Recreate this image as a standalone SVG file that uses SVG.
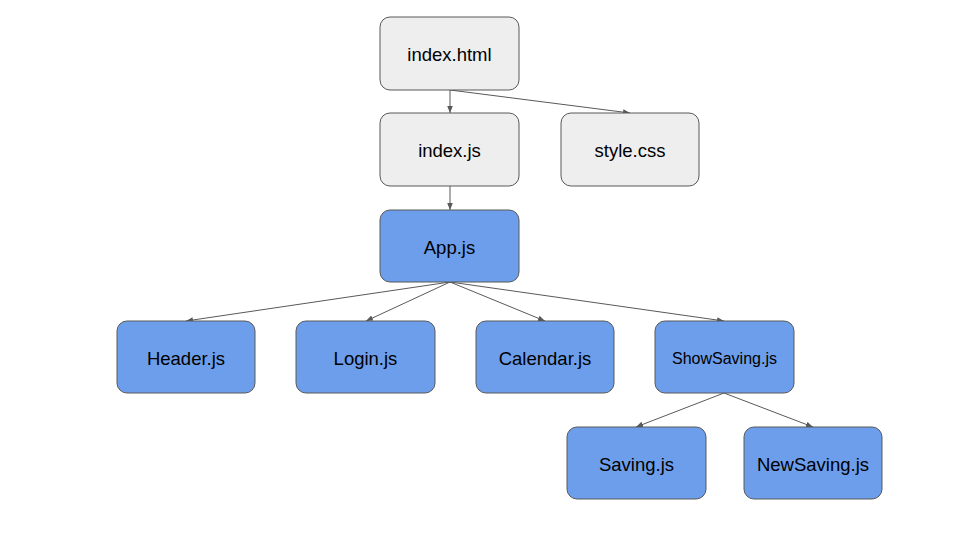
<svg xmlns="http://www.w3.org/2000/svg" width="960" height="540" viewBox="0 0 960 540">
<defs>
<marker id="ah" viewBox="0 0 10 10" refX="10" refY="5" markerWidth="7" markerHeight="7" markerUnits="userSpaceOnUse" orient="auto">
<path d="M0,1 L10,5 L0,9 z" fill="#595959"/>
</marker>
</defs>
<style>
.n rect{stroke:#595959;stroke-width:1}
.g rect{fill:#eeeeee}
.b rect{fill:#6d9eeb}
.n text{font-family:"Liberation Sans",Arial,sans-serif;font-size:18.5px;fill:#000;text-anchor:middle;dominant-baseline:central}
#connectors line{stroke:#595959;stroke-width:1;marker-end:url(#ah)}
</style>
<rect width="960" height="540" fill="#ffffff"/>
<g id="connectors">
<line x1="450" y1="90" x2="450" y2="113"/>
<line x1="450" y1="90" x2="630" y2="113"/>
<line x1="450" y1="186" x2="450" y2="210"/>
<line x1="450" y1="282" x2="186" y2="321"/>
<line x1="450" y1="282" x2="366" y2="321"/>
<line x1="450" y1="282" x2="545" y2="321"/>
<line x1="450" y1="282" x2="724" y2="321"/>
<line x1="724" y1="393" x2="636" y2="427"/>
<line x1="724" y1="393" x2="813" y2="427"/>
</g>
<g id="index_html" class="n g"><rect x="380" y="17" width="139" height="73" rx="10"/><text x="449.5" y="54.5">index.html</text></g>
<g id="index_js" class="n g"><rect x="380" y="113" width="139" height="73" rx="10"/><text x="449.5" y="150.5">index.js</text></g>
<g id="style_css" class="n g"><rect x="561" y="113" width="138" height="73" rx="10"/><text x="630" y="150.5">style.css</text></g>
<g id="app_js" class="n b"><rect x="380" y="210" width="139" height="72" rx="10"/><text x="449.5" y="247">App.js</text></g>
<g id="header_js" class="n b"><rect x="117" y="321" width="138" height="72" rx="10"/><text x="186" y="358">Header.js</text></g>
<g id="login_js" class="n b"><rect x="296" y="321" width="139" height="72" rx="10"/><text x="365.5" y="358">Login.js</text></g>
<g id="calendar_js" class="n b"><rect x="476" y="321" width="138" height="72" rx="10"/><text x="545" y="358">Calendar.js</text></g>
<g id="showsaving_js" class="n b"><rect x="655" y="321" width="139" height="72" rx="10"/><text x="724.5" y="358" style="font-size:16px">ShowSaving.js</text></g>
<g id="saving_js" class="n b"><rect x="567" y="427" width="139" height="72" rx="10"/><text x="636.5" y="464">Saving.js</text></g>
<g id="newsaving_js" class="n b"><rect x="744" y="427" width="138" height="72" rx="10"/><text x="813" y="464">NewSaving.js</text></g>
</svg>
